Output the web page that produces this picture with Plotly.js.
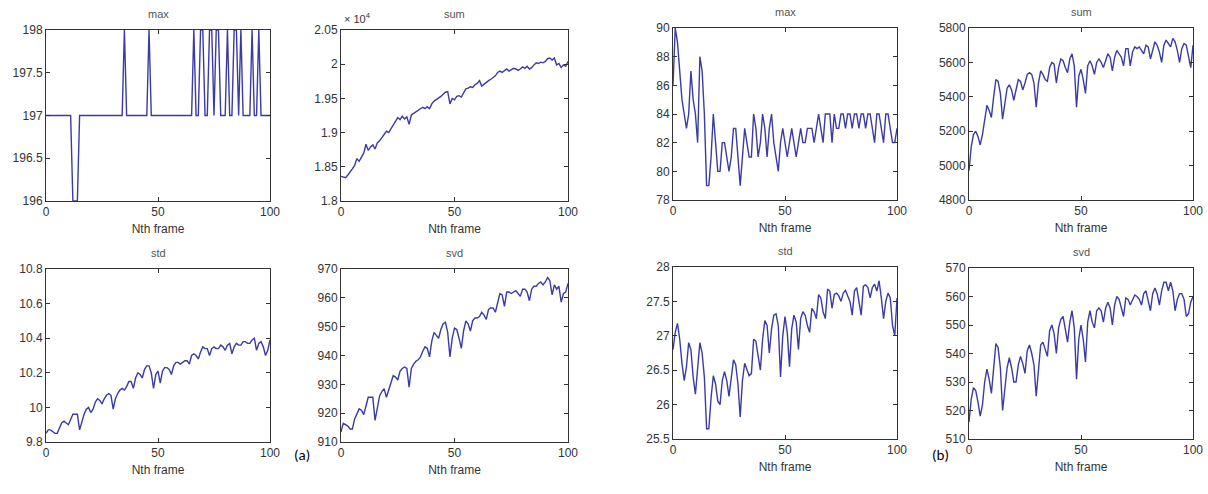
<!DOCTYPE html>
<html>
<head>
<meta charset="utf-8">
<script src="https://cdn.plot.ly/plotly-3.0.1.min.js"></script>
<style>
  html, body { margin: 0; padding: 0; background: #ffffff; }
  #chart { width: 1208px; height: 494px; }
</style>
</head>
<body>
<div id="chart"></div>
<script>
// ---------- DATA ----------
const frames = Array.from({length: 101}, (_, i) => i); // Nth frame 0..100

// (a) panel series
const aMax = [
  197,197,197,197,197,197,197,197,197,197,197,197,196,196,196,197,197,197,197,197,
  197,197,197,197,197,197,197,197,197,197,197,197,197,197,197,198,197,197,197,197,
  197,197,197,197,197,197,198,197,197,197,197,197,197,197,197,197,197,197,197,197,
  197,197,197,197,197,197,198,197,197,198,198,197,197,198,198,197,198,198,197,197,
  197,198,197,197,198,198,197,198,197,197,197,197,198,197,197,198,197,197,197,197,
  197
];
const aSum = [
  18360,18345,18340,18380,18420,18470,18520,18620,18580,18650,18700,18830,18740,18790,18820,18760,18850,18880,18930,18970,
  19020,19000,19060,19100,19170,19220,19190,19240,19200,19230,19120,19260,19280,19300,19330,19350,19370,19350,19380,19350,
  19420,19460,19480,19500,19530,19560,19590,19600,19420,19500,19480,19530,19540,19520,19580,19640,19650,19670,19660,19700,
  19720,19760,19680,19710,19730,19760,19780,19800,19830,19880,19900,19880,19910,19930,19900,19920,19940,19930,19910,19930,
  19960,19940,19970,19930,19950,19990,20020,20010,20030,20020,20040,20080,20090,20060,20090,19990,20010,19950,19990,19970,
  20040
];
const aStd = [
  9.85,9.87,9.87,9.86,9.85,9.85,9.88,9.91,9.92,9.91,9.90,9.93,9.96,9.96,9.96,9.87,9.92,9.96,9.99,10.00,
  9.97,9.99,10.03,10.05,10.04,10.02,10.05,10.07,10.08,10.07,9.99,10.05,10.08,10.10,10.11,10.10,10.12,10.15,10.15,10.11,
  10.17,10.20,10.19,10.17,10.22,10.24,10.24,10.20,10.11,10.19,10.21,10.14,10.21,10.23,10.23,10.22,10.19,10.24,10.26,10.26,
  10.25,10.26,10.27,10.27,10.25,10.30,10.31,10.30,10.28,10.32,10.35,10.34,10.34,10.30,10.34,10.35,10.34,10.34,10.36,10.35,
  10.33,10.36,10.37,10.31,10.35,10.37,10.36,10.36,10.38,10.38,10.37,10.37,10.39,10.40,10.33,10.37,10.38,10.35,10.30,10.33,
  10.39
];
const aSvd = [
  913.5,916.5,916,915.5,914.5,914.5,918,920,921.5,921,919.5,922.5,925.5,925.5,925.5,917.5,922,926,927.5,928.5,
  925.5,928,930,933,932.5,931.5,934.5,935.5,936,935.5,929,935.5,937,938,938.5,939.5,941.5,943,942.5,939.5,
  945,948,947,946,949,951,951.5,948,939.5,946,949.5,949,946,942.5,948.5,952,951,948.5,952,953,
  953,953.5,955,954,952.5,956,956.5,956.5,955,958.5,961.5,961,957,962,962,961.5,962,962.5,961.5,960.5,
  963,963,962,959,963,964,964,965,965.5,964.5,965.5,967,966,961,964.5,963,964,958.5,961.5,962,
  965
];

// (b) panel series
const bMax = [
  86,90,89,87,85,84,83,84,87,85,84,82,88,87,84,79,79,81,84,82,
  80,80,82,82,81,80,81,83,83,81,79,81,83,82,81,81,84,83,81,82,
  84,83,81,83,84,82,81,80,82,83,82,81,82,83,82,81,82,83,82,82,
  83,83,83,82,83,84,83,82,84,84,84,82,84,83,83,84,84,83,84,84,
  83,84,84,83,84,84,83,84,84,83,82,84,84,83,82,84,84,83,82,82,
  83
];
const bSum = [
  4970,5110,5180,5200,5170,5120,5180,5280,5350,5320,5280,5400,5500,5490,5420,5270,5370,5450,5470,5440,
  5380,5450,5500,5490,5440,5480,5530,5540,5530,5480,5340,5480,5550,5530,5500,5490,5570,5600,5590,5480,
  5570,5620,5610,5570,5540,5620,5650,5580,5340,5520,5560,5500,5420,5580,5610,5580,5530,5600,5620,5600,
  5570,5610,5650,5630,5550,5630,5670,5650,5630,5580,5680,5680,5580,5660,5690,5680,5690,5670,5650,5700,
  5690,5620,5680,5720,5700,5660,5600,5700,5730,5710,5690,5740,5720,5670,5600,5680,5710,5700,5640,5570,
  5700
];
const bStd = [
  26.80,27.05,27.18,26.95,26.60,26.35,26.55,26.90,26.80,26.40,26.15,26.50,26.90,26.75,26.40,25.65,25.65,26.10,26.42,26.30,
  26.05,26.00,26.35,26.48,26.35,26.12,26.40,26.65,26.58,26.30,25.82,26.35,26.60,26.52,26.42,26.45,26.95,26.92,26.70,26.50,
  26.95,27.22,27.15,26.75,27.10,27.30,27.32,27.15,26.40,27.00,27.28,27.05,26.55,27.10,27.30,27.20,26.80,27.25,27.35,27.30,
  27.15,27.05,27.40,27.35,27.25,27.60,27.55,27.35,27.25,27.68,27.65,27.40,27.60,27.62,27.58,27.50,27.62,27.66,27.58,27.50,
  27.30,27.65,27.70,27.50,27.30,27.72,27.74,27.70,27.55,27.70,27.75,27.65,27.80,27.55,27.25,27.50,27.62,27.55,27.15,27.00,
  27.55
];
const bSvd = [
  516,524,528,527,523,518,522,530,534.5,531,526,534,543.5,542,535,520,528,535,538.5,535,
  530,530,536,539,536.5,533,541,543,540,536,525,535,543,544,541,539,548,550,547,540,
  549,552,553,549,544,551,555,549,531,545,550,545,537,551,555,551,549,555,556,555,
  551,556,558,556,550,557,560,559,556,553,559.5,559,557,559,560.5,560,559,557,561,562,
  559,555,561,563,561,557,562,565,565,562,565,562,555,559,561,561,559,553,554,558,
  560
];

// titles and tick labels
const panelTitles = ['max', 'sum', 'std', 'svd', 'max', 'sum', 'std', 'svd'];
const xTickVals = [0, 50, 100];
const xAxisLabel = 'Nth frame';
const aSumTickVals = [18000, 18500, 19000, 19500, 20000, 20500];
const aSumTickText = ['1.8', '1.85', '1.9', '1.95', '2', '2.05'];
const panelLabels = ['(a)', '(b)'];

// ---------- LAYOUT ----------
const W = 1208, H = 494;
const LINE = '#3b3ba6';
const AX = '#333333';
const FONT = 'Liberation Sans, Arial, sans-serif';

// pixel boxes [left, right, top, bottom]
const panels = [
  {y: aMax, box: [46, 270, 30, 201], range: [196, 198], dtick: 0.5},
  {y: aSum, box: [341, 568, 30, 201], range: [18000, 20500], tickvals: aSumTickVals, ticktext: aSumTickText},
  {y: aStd, box: [46, 270, 269, 442], range: [9.8, 10.8], dtick: 0.2},
  {y: aSvd, box: [341, 568, 269, 442], range: [910, 970], dtick: 10},
  {y: bMax, box: [673, 897, 28, 200], range: [78, 90], dtick: 2},
  {y: bSum, box: [969, 1193, 28, 200], range: [4800, 5800], dtick: 200},
  {y: bStd, box: [673, 897, 267, 439], range: [25.5, 28], dtick: 0.5},
  {y: bSvd, box: [969, 1193, 268, 439], range: [510, 570], dtick: 10}
];

const traces = [];
const layout = {
  width: W, height: H,
  margin: {l: 0, r: 0, t: 0, b: 0},
  paper_bgcolor: '#ffffff',
  plot_bgcolor: '#ffffff',
  showlegend: false,
  font: {family: FONT, size: 12, color: AX},
  annotations: []
};

panels.forEach((p, i) => {
  const n = i + 1;
  const sfx = (n === 1 ? '' : String(n));
  const [l, r, t, b] = p.box;
  traces.push({
    x: frames, y: p.y, type: 'scatter', mode: 'lines',
    line: {color: LINE, width: 1.4},
    xaxis: 'x' + sfx, yaxis: 'y' + sfx,
    hoverinfo: 'skip'
  });
  const common = {
    showgrid: false, zeroline: false,
    showline: true, linecolor: AX, linewidth: 1, mirror: 'ticks',
    ticks: 'inside', ticklen: 4, tickwidth: 1, tickcolor: AX,
    tickfont: {family: FONT, size: 12, color: AX},
    fixedrange: true
  };
  layout['xaxis' + sfx] = Object.assign({}, common, {
    domain: [l / W, r / W],
    range: [0, 100],
    tickmode: 'array', tickvals: xTickVals,
    anchor: 'y' + sfx,
    title: {text: xAxisLabel, font: {family: FONT, size: 12, color: AX}, standoff: 6}
  });
  const yax = Object.assign({}, common, {
    domain: [1 - b / H, 1 - t / H],
    range: p.range,
    anchor: 'x' + sfx
  });
  if (p.tickvals) {
    yax.tickmode = 'array'; yax.tickvals = p.tickvals; yax.ticktext = p.ticktext;
  } else {
    yax.tickmode = 'linear'; yax.tick0 = p.range[0]; yax.dtick = p.dtick;
  }
  layout['yaxis' + sfx] = yax;
  layout.annotations.push({
    text: panelTitles[i], showarrow: false,
    xref: 'paper', yref: 'paper',
    x: (l + r) / 2 / W, y: 1 - (t - 16) / H,
    xanchor: 'center', yanchor: 'middle',
    font: {family: FONT, size: 11, color: '#555555'}
  });
});

// x10^4 exponent label for the (a) sum panel
layout.annotations.push({
  text: '\u00d7 10<sup>4</sup>', showarrow: false,
  xref: 'paper', yref: 'paper',
  x: 342 / W, y: 1 - 18 / H, xanchor: 'left', yanchor: 'middle',
  font: {family: FONT, size: 11, color: AX}
});

// panel labels (a) and (b)
[[302, 455], [940, 455]].forEach((pos, k) => {
  layout.annotations.push({
    text: panelLabels[k], showarrow: false,
    xref: 'paper', yref: 'paper',
    x: pos[0] / W, y: 1 - pos[1] / H, xanchor: 'center', yanchor: 'middle',
    font: {family: 'Carlito, Liberation Sans, sans-serif', size: 15, color: '#000000'}
  });
});

Plotly.newPlot('chart', traces, layout, {staticPlot: true, displayModeBar: false});
</script>
</body>
</html>
